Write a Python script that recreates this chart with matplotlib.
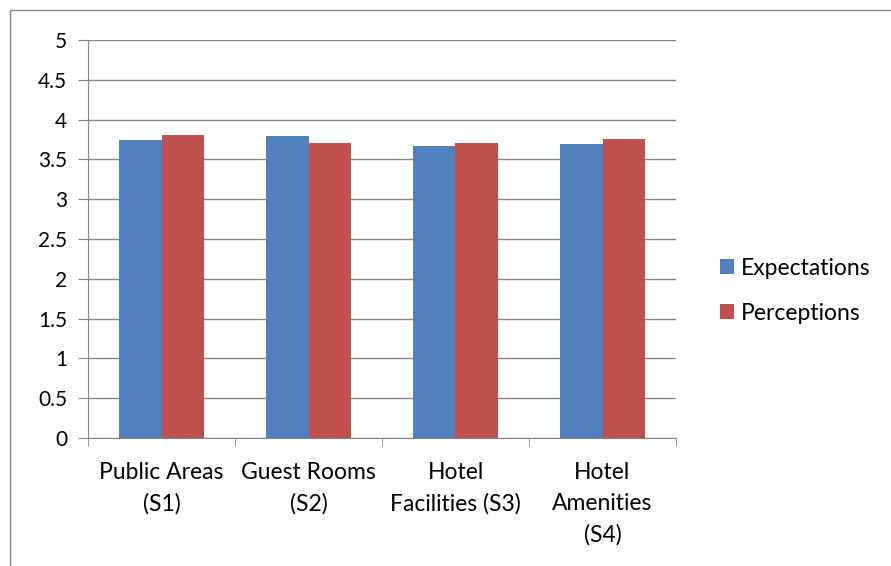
import matplotlib.pyplot as plt
from matplotlib.patches import Rectangle
import numpy as np

categories = ["Public Areas\n(S1)", "Guest Rooms\n(S2)", "Hotel\nFacilities (S3)", "Hotel\nAmenities\n(S4)"]
expectations = [3.74, 3.79, 3.67, 3.69]
perceptions = [3.81, 3.71, 3.71, 3.76]
y_ticks = [0, 0.5, 1, 1.5, 2, 2.5, 3, 3.5, 4, 4.5, 5]
y_labels = ["0", "0.5", "1", "1.5", "2", "2.5", "3", "3.5", "4", "4.5", "5"]

plt.rcParams['font.family'] = ['Lato', 'DejaVu Sans']

fig = plt.figure(figsize=(8.91, 5.66), dpi=100)
# plot area in pixels: x 88..676, y 40..438
ax = fig.add_axes([88 / 891, 1 - 438 / 566, 588 / 891, 398 / 566])

# outer chart border
fig.patches.append(Rectangle((10 / 891, -0.01), 1.0, 1 - 10 / 566 + 0.01,
                             transform=fig.transFigure, fill=False,
                             edgecolor='#868686', linewidth=1))

x = np.arange(len(categories))
w = 0.286
ax.bar(x - w / 2, expectations, w, color='#4F81BD', label='Expectations')
ax.bar(x + w / 2, perceptions, w, color='#C0504D', label='Perceptions')

ax.set_xlim(-0.5, len(categories) - 0.5)
ax.set_ylim(0, 5)
ax.set_yticks(y_ticks)
ax.set_yticklabels(y_labels, fontsize=15)
ax.yaxis.grid(True, color='#868686', linewidth=1)
ax.set_axisbelow(True)

ax.set_xticks(x)
ax.set_xticklabels(categories, fontsize=16.5, linespacing=1.6)
ax.set_xticks(np.arange(-0.5, len(categories)), minor=True)
ax.tick_params(axis='x', which='major', length=0, pad=17)
ax.tick_params(axis='x', which='minor', length=6, color='#868686', direction='out')
ax.tick_params(axis='y', length=7, color='#868686', direction='out', pad=8)

for side in ['top', 'right']:
    ax.spines[side].set_visible(False)
for side in ['left', 'bottom']:
    ax.spines[side].set_color('#868686')

ax.legend(loc='center left', bbox_to_anchor=(1.04, 0.37), frameon=False,
          fontsize=16.5, handlelength=0.6, handleheight=0.6, handletextpad=0.3,
          labelspacing=1.05)

fig.savefig('out.png', dpi=100)
